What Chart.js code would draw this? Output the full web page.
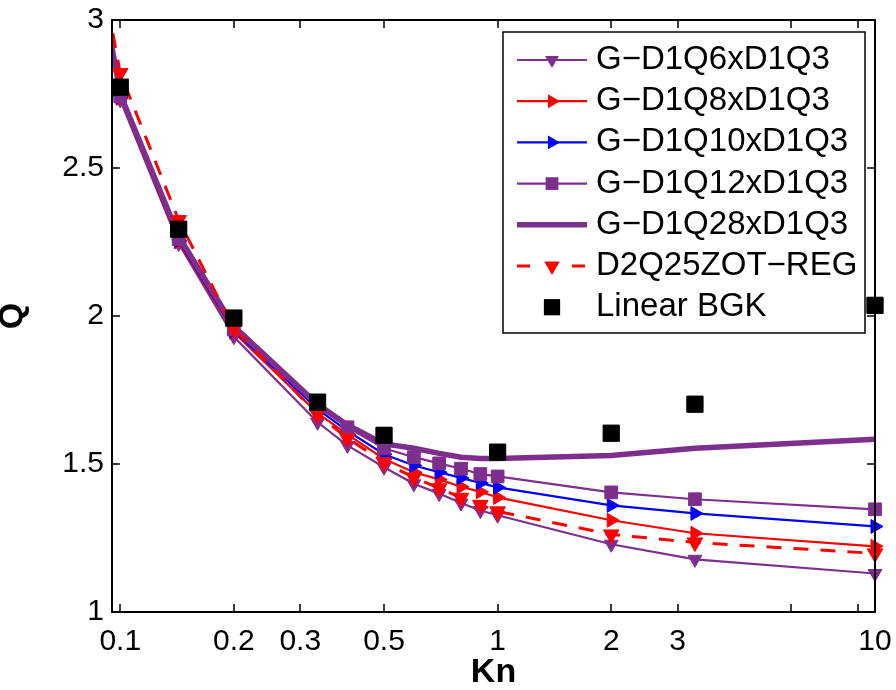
<!DOCTYPE html>
<html><head><meta charset="utf-8">
<script src="https://cdn.jsdelivr.net/npm/chart.js@4/dist/chart.umd.min.js"></script>
<style>html,body{margin:0;padding:0;background:#fff;}#wrap{width:896px;height:690px;}</style>
</head><body><div id="wrap"><canvas id="c" width="896" height="690"></canvas></div>
<script>
// ---- data ----
const kn = [0.09, 0.1, 1/7, 0.2, 1/3, 0.4, 0.5, 0.6, 0.7, 0.8, 0.9, 1, 2, 10/3, 10];
const qD1Q6  = [3.066, 2.730, 2.245, 1.930, 1.641, 1.563, 1.489, 1.433, 1.400, 1.368, 1.343, 1.327, 1.229, 1.178, 1.130];
const qD1Q8  = [3.070, 2.735, 2.250, 1.945, 1.672, 1.600, 1.517, 1.472, 1.448, 1.423, 1.406, 1.387, 1.310, 1.266, 1.222];
const qD1Q10 = [3.072, 2.740, 2.255, 1.950, 1.685, 1.612, 1.533, 1.495, 1.472, 1.453, 1.436, 1.421, 1.360, 1.333, 1.289];
const qD1Q12 = [3.075, 2.742, 2.260, 1.955, 1.695, 1.624, 1.553, 1.523, 1.502, 1.484, 1.466, 1.458, 1.404, 1.381, 1.347];
const qD1Q28 = [3.080, 2.750, 2.270, 1.965, 1.702, 1.632, 1.568, 1.553, 1.536, 1.523, 1.519, 1.519, 1.529, 1.553, 1.584];
const qD2Q25 = [3.135, 2.821, 2.324, 1.958, 1.668, 1.587, 1.506, 1.454, 1.418, 1.386, 1.362, 1.340, 1.262, 1.235, 1.198];
const knBGK = [0.1, 1/7, 0.2, 1/3, 0.5, 1, 2, 10/3, 10];
const qBGK  = [2.773, 2.293, 1.993, 1.709, 1.597, 1.540, 1.604, 1.702, 2.036];
const seriesNames = ['G\u2212D1Q6xD1Q3', 'G\u2212D1Q8xD1Q3', 'G\u2212D1Q10xD1Q3', 'G\u2212D1Q12xD1Q3', 'G\u2212D1Q28xD1Q3', 'D2Q25ZOT\u2212REG', 'Linear BGK'];
const xTickValues = [0.1, 0.2, 0.3, 0.5, 1, 2, 3, 6, 9, 10];
const xTickLabels = ['0.1', '0.2', '0.3', '0.5', '1', '2', '3', '', '', '10'];
const yTickValues = [1, 1.5, 2, 2.5, 3];
const X_MIN = 0.0951, X_MAX = 10, Y_MIN = 1, Y_MAX = 3;

const PURPLE = '#7E2F8E', RED = '#FF0000', BLUE = '#0000FF', BLACK = '#000000';
const FONT = "'Liberation Sans', Arial, Helvetica, sans-serif";
Chart.defaults.font.family = FONT;

const pts = (xs, ys) => xs.map((x, i) => ({x: x, y: ys[i]}));
const rad = r => (c => (c.raw && c.raw.x < X_MIN) ? 0 : r);
const clipLeft = {left: 0, top: false, right: false, bottom: false};

function ds(label, data, color, width, style, rotation, r, order, dash) {
  return {
    label, data: data, borderColor: color, backgroundColor: color,
    borderWidth: width, pointStyle: style, rotation: rotation,
    pointRadius: rad(r), pointHoverRadius: rad(r), pointBorderWidth: 1,
    pointBorderColor: color, pointBackgroundColor: color,
    borderDash: dash || [], tension: 0, order: order, clip: clipLeft, _r: r
  };
}

const datasets = [
  ds(seriesNames[0], pts(kn, qD1Q6),  PURPLE, 2.2, 'triangle', 180, 8, 6),
  ds(seriesNames[1], pts(kn, qD1Q8),  RED,    2.2, 'triangle', 90, 8, 5),
  ds(seriesNames[2], pts(kn, qD1Q10), BLUE,   2.2, 'triangle', 90, 8, 4),
  ds(seriesNames[3], pts(kn, qD1Q12), PURPLE, 2.2, 'rect', 0, 9, 3),
  ds(seriesNames[4], pts(kn, qD1Q28), PURPLE, 5.5, false, 0, 0, 2),
  ds(seriesNames[5], pts(kn, qD2Q25), RED,    3, 'triangle', 180, 9, 1, [15, 12]),
  Object.assign(ds(seriesNames[6], pts(knBGK, qBGK), BLACK, 0, 'rect', 0, 11.5, 0), {showLine: false})
];

function drawMarker(ctx, style, rotation, r, x, y, color) {
  if (!style || !r) return;
  ctx.save();
  ctx.translate(x, y);
  ctx.rotate(rotation * Math.PI / 180);
  ctx.beginPath();
  if (style === 'triangle') {
    for (let k = 0; k < 3; k++) {
      const a = k * 2 * Math.PI / 3;
      ctx.lineTo(Math.sin(a) * r, -Math.cos(a) * r);
    }
    ctx.closePath();
  } else {
    const s = r * Math.SQRT1_2;
    ctx.rect(-s, -s, 2 * s, 2 * s);
  }
  ctx.fillStyle = color;
  ctx.fill();
  ctx.restore();
}

const framePlugin = {
  id: 'frame',
  afterDraw(chart) {
    const {ctx, chartArea: a, scales} = chart;
    const xs = scales.x, ys = scales.y;
    ctx.save();
    ctx.strokeStyle = '#000';
    ctx.lineWidth = 2;
    ctx.strokeRect(a.left, a.top, a.right - a.left, a.bottom - a.top);
    ctx.beginPath();
    const tl = 8;
    xTickValues.forEach(v => {
      const px = Math.round(xs.getPixelForValue(v));
      ctx.moveTo(px, a.bottom); ctx.lineTo(px, a.bottom - tl);
      ctx.moveTo(px, a.top); ctx.lineTo(px, a.top + tl);
    });
    yTickValues.forEach(v => {
      const py = Math.round(ys.getPixelForValue(v));
      ctx.moveTo(a.left, py); ctx.lineTo(a.left + tl, py);
      ctx.moveTo(a.right, py); ctx.lineTo(a.right - tl, py);
    });
    ctx.lineWidth = 1.5;
    ctx.stroke();

    // legend box
    const bx = 503, by = 32, bw = 362, bh = 301;
    ctx.fillStyle = '#fff';
    ctx.fillRect(bx, by, bw, bh);
    ctx.lineWidth = 1.5;
    ctx.strokeRect(bx, by, bw, bh);
    const x0 = 517, x1 = 587, xm = 552, tx = 596;
    ctx.font = '33px ' + FONT;
    ctx.textBaseline = 'middle';
    ctx.textAlign = 'left';
    chart.data.datasets.forEach((d, i) => {
      const y = 60 + i * 41.2;
      if (d.showLine !== false) {
        ctx.save();
        ctx.strokeStyle = d.borderColor;
        ctx.lineWidth = d.borderWidth;
        if (d.borderDash && d.borderDash.length) ctx.setLineDash([13, 42]);
        ctx.beginPath();
        ctx.moveTo(x0, y); ctx.lineTo(x1, y);
        ctx.stroke();
        ctx.restore();
      }
      drawMarker(ctx, d.pointStyle, d.rotation, d._r, xm, y, d.pointBackgroundColor);
      ctx.fillStyle = '#000';
      ctx.fillText(d.label, tx, y);
    });
    ctx.restore();
  }
};

new Chart(document.getElementById('c'), {
  type: 'line',
  data: {datasets: datasets},
  options: {
    responsive: false,
    animation: false,
    devicePixelRatio: 1,
    layout: {padding: {top: 20, right: 21, left: 0, bottom: 0}},
    plugins: {legend: {display: false}, tooltip: {enabled: false}},
    scales: {
      x: {
        type: 'logarithmic', min: X_MIN, max: X_MAX, position: 'bottom',
        grid: {display: false, drawTicks: false},
        border: {display: false},
        afterBuildTicks: s => { s.ticks = xTickValues.map(v => ({value: v})); },
        afterFit: s => { s.height = 78; s.paddingLeft = 0; s.paddingRight = 0; },
        ticks: {
          autoSkip: false, maxRotation: 0, minRotation: 0, padding: 12, color: '#000',
          font: {size: 30},
          callback: (v) => { const i = xTickValues.indexOf(v); return i >= 0 ? xTickLabels[i] : ''; }
        },
        title: {display: true, text: 'Kn', color: '#000', font: {size: 34, weight: 'bold', lineHeight: 1}, padding: 0}
      },
      y: {
        type: 'linear', min: Y_MIN, max: Y_MAX,
        grid: {display: false, drawTicks: false},
        border: {display: false},
        afterBuildTicks: s => { s.ticks = yTickValues.map(v => ({value: v})); },
        afterFit: s => { s.width = 112; s.paddingTop = 0; s.paddingBottom = 0; },
        ticks: {padding: 8, color: '#000', font: {size: 30}, callback: v => String(v)},
        title: {display: true, text: 'Q', color: '#000', font: {size: 34, weight: 'bold', lineHeight: 1}, padding: {top: -4, bottom: 0}}
      }
    }
  },
  plugins: [framePlugin]
});
</script></body></html>
